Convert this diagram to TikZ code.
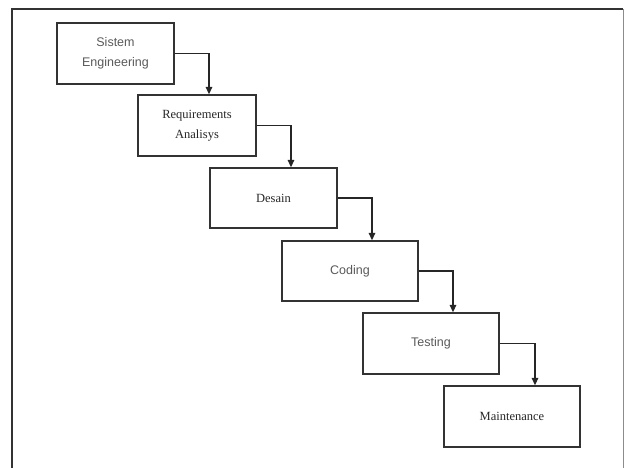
\documentclass[tikz,border=0pt]{standalone}
\usepackage{fontspec}
\setmainfont{Liberation Serif}
\setsansfont{Liberation Sans}
\usetikzlibrary{arrows.meta}
\begin{document}
\begin{tikzpicture}[x=1pt,y=-1pt,
  stage/.style={draw=black!80, line width=1.3pt, inner sep=0pt, align=center,
    font=\fontsize{12.5}{20}\selectfont},
  sanstext/.style={font=\fontsize{12.5}{20}\selectfont\sffamily, text=black!65},
  seriftext/.style={text=black!85},
  link/.style={draw=black!85, line width=1.3pt, -{Triangle[length=7.5pt,width=6.5pt]}}]
\useasboundingbox (0,0) rectangle (624,468);
\draw[line width=2.2pt, black!80] (12,468) -- (12,9) -- (623,9);
\draw[line width=1pt, black!45] (623,9) -- (623,468);

\node[stage, sanstext, minimum width=117, minimum height=61] (s1) at (115.5,53.5) {Sistem\\Engineering};
\node[stage, seriftext, minimum width=118, minimum height=61] (s2) at (197,125.5) {Requirements\\Analisys};
\node[stage, seriftext, minimum width=127, minimum height=60] (s3) at (273.5,198) {Desain};
\node[stage, sanstext, minimum width=136, minimum height=60] (s4) at (350,271) {Coding};
\node[stage, sanstext, minimum width=136, minimum height=61] (s5) at (431,343.5) {Testing};
\node[stage, seriftext, minimum width=136, minimum height=61] (s6) at (512,416.5) {Maintenance};

\draw[link] (s1.east) -| ([xshift=12pt]s2.north);
\draw[link] (s2.east) -| ([xshift=17.5pt]s3.north);
\draw[link] (s3.east) -| ([xshift=22pt]s4.north);
\draw[link] (s4.east) -| ([xshift=22pt]s5.north);
\draw[link] (s5.east) -| ([xshift=23pt]s6.north);
\end{tikzpicture}
\end{document}
